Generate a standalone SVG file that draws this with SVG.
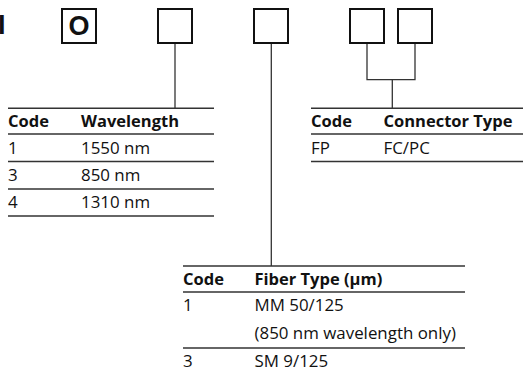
<svg xmlns="http://www.w3.org/2000/svg" width="523" height="372" viewBox="0 0 523 372">
<style>
.box{fill:#fff;stroke:#111;stroke-width:2}
.conn{fill:none;stroke:#333;stroke-width:1.3}
.rule{stroke:#333;stroke-width:1.4}
.h{font-family:"Open Sans","Noto Sans",sans-serif;font-weight:bold;font-size:16.5px;fill:#111}
.t{font-family:"Open Sans","Noto Sans",sans-serif;font-size:16.9px;fill:#111}
.big{font-family:"Liberation Sans",Arial,sans-serif;font-weight:bold;font-size:27px;fill:#111}
</style>
<rect width="523" height="372" fill="#fff"/>
<text class="big" x="-2" y="34">I</text>
<g id="box1"><rect class="box" x="62" y="9" width="34" height="34"/><text class="big" x="79" y="35" text-anchor="middle">O</text></g>
<g id="box2"><rect class="box" x="158" y="9" width="34" height="34"/></g>
<g id="box3"><rect class="box" x="254" y="9" width="34" height="34"/></g>
<g id="box4"><rect class="box" x="350" y="9" width="34" height="34"/></g>
<g id="box5"><rect class="box" x="398" y="9" width="34" height="34"/></g>
<g id="connectors">
<path class="conn" d="M175,44 V108"/>
<path class="conn" d="M271.3,44 V266"/>
<path class="conn" d="M367,44 V79.7 H415 V44"/>
<path class="conn" d="M392.3,79.7 V108"/>
</g>
<g id="wavelength-table">
<line class="rule" x1="8" y1="108.3" x2="214" y2="108.3"/>
<line class="rule" x1="8" y1="134" x2="214" y2="134"/>
<line class="rule" x1="8" y1="161.5" x2="214" y2="161.5"/>
<line class="rule" x1="8" y1="189" x2="214" y2="189"/>
<line class="rule" x1="8" y1="216" x2="214" y2="216"/>
<text class="h" x="8" y="126.5">Code</text>
<text class="h" x="81" y="126.5">Wavelength</text>
<text class="t" x="8" y="153.5">1</text><text class="t" x="81" y="153.5">1550 nm</text>
<text class="t" x="8" y="181">3</text><text class="t" x="81" y="181">850 nm</text>
<text class="t" x="8" y="208">4</text><text class="t" x="81" y="208">1310 nm</text>
</g>
<g id="connector-table">
<line class="rule" x1="311" y1="108.3" x2="523" y2="108.3"/>
<line class="rule" x1="311" y1="134" x2="523" y2="134"/>
<line class="rule" x1="311" y1="161.5" x2="523" y2="161.5"/>
<text class="h" x="311" y="126.5">Code</text>
<text class="h" x="383.5" y="126.5">Connector Type</text>
<text class="t" x="311" y="153.5">FP</text><text class="t" x="383.5" y="153.5">FC/PC</text>
</g>
<g id="fiber-table">
<line class="rule" x1="183" y1="266" x2="465" y2="266"/>
<line class="rule" x1="183" y1="292" x2="465" y2="292"/>
<line class="rule" x1="183" y1="348" x2="465" y2="348"/>
<text class="h" x="183" y="284.5">Code</text>
<text class="h" x="254.5" y="284.5">Fiber Type (µm)</text>
<text class="t" x="183" y="310.5">1</text><text class="t" x="254.5" y="310.5">MM 50/125</text>
<text class="t" x="254.5" y="338.5">(850 nm wavelength only)</text>
<text class="t" x="183" y="366.5">3</text><text class="t" x="254.5" y="366.5">SM 9/125</text>
</g>
</svg>
